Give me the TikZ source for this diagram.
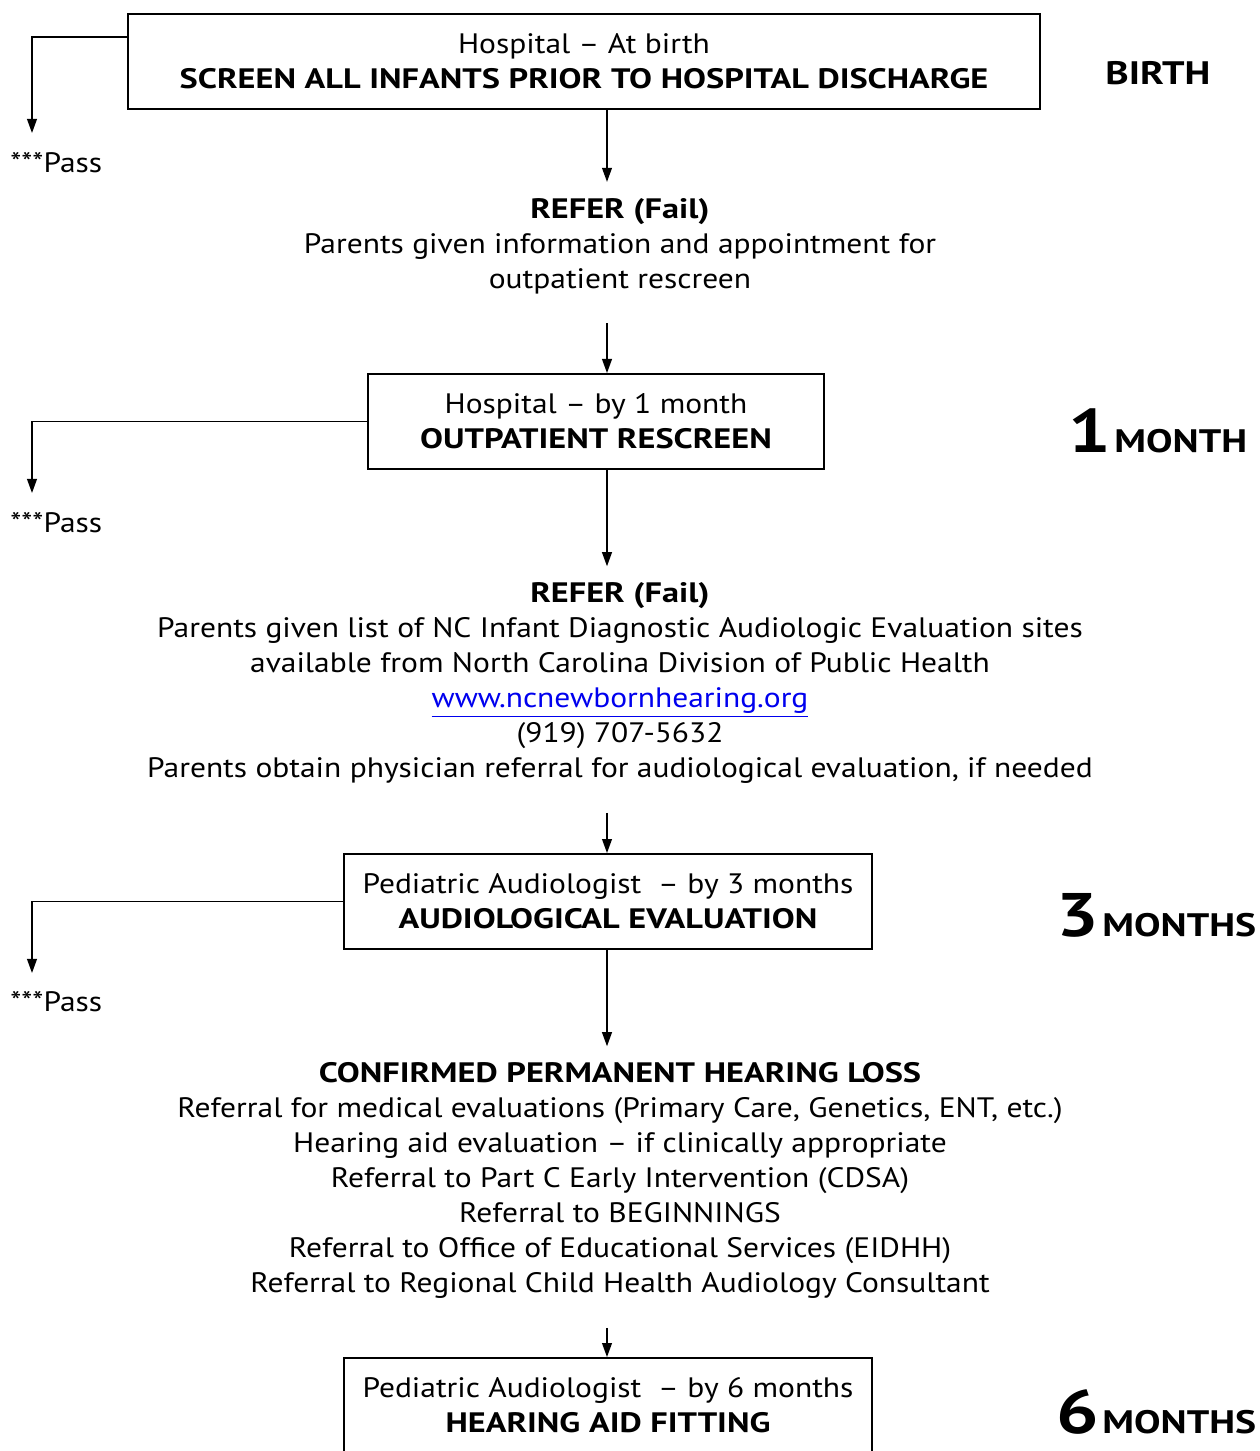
\documentclass[tikz,border=0pt]{standalone}
\usepackage{fontspec}
\setmainfont{PT Sans}[FakeStretch=1.12, BoldFeatures={FakeStretch=1.22}]
\usetikzlibrary{arrows.meta}
\definecolor{linkblue}{RGB}{0,0,238}
\begin{document}
\begin{tikzpicture}[x=0.02cm, y=-0.02cm,
    stage/.style={draw, line width=1.1pt, minimum height=1.9cm, align=center, inner sep=0pt, font=\fontsize{16}{19.9}\selectfont},
    info/.style={align=center, inner sep=0pt, font=\fontsize{16}{19.9}\selectfont},
    flow/.style={-{Triangle[length=8pt,width=5.6pt]}, line width=0.8pt},
    age/.style={anchor=base west, inner sep=0pt, font=\fontsize{18.5}{20}\selectfont\bfseries},
    pass/.style={anchor=base west, inner sep=0pt, font=\fontsize{16}{19.9}\selectfont}]
    \useasboundingbox (0, 0) rectangle (1259, 1451);
    \clip (0, 0) rectangle (1259, 1451);
    \newcommand{\bignum}[1]{{\fontsize{35}{35}\selectfont #1}\hspace{2pt}}

    % Stage boxes
    \node[stage, minimum width=18.24cm] (birth) at (584, 61.5) {Hospital -- At birth\\\textbf{SCREEN ALL INFANTS PRIOR TO HOSPITAL DISCHARGE}};
    \node[stage, minimum width=9.12cm] (rescreen) at (596, 421.5) {Hospital -- by 1 month\\\textbf{OUTPATIENT RESCREEN}};
    \node[stage, minimum width=10.56cm] (evaluation) at (608, 901.5) {Pediatric Audiologist\ \ -- by 3 months\\\textbf{AUDIOLOGICAL EVALUATION}};
    \node[stage, minimum width=10.56cm] (fitting) at (608, 1405.5) {Pediatric Audiologist\ \ -- by 6 months\\\textbf{HEARING AID FITTING}};

    % Refer and confirmed texts
    \node[info] (refer1) at (620, 246) {\textbf{REFER (Fail)}\\Parents given information and appointment for\\outpatient rescreen};
    \node[info] (refer2) at (620, 683) {\textbf{REFER (Fail)}\\Parents given list of NC Infant Diagnostic Audiologic Evaluation sites\\available from North Carolina Division of Public Health\\\textcolor{linkblue}{\underline{www.ncnewbornhearing.org}}\\(919) 707-5632\\Parents obtain physician referral for audiological evaluation, if needed};
    \node[info] (confirmed) at (620, 1180.5) {\textbf{CONFIRMED PERMANENT HEARING LOSS}\\Referral for medical evaluations (Primary Care, Genetics, ENT, etc.)\\Hearing aid evaluation -- if clinically appropriate\\Referral to Part C Early Intervention (CDSA)\\Referral to BEGINNINGS\\Referral to Office of Educational Services (EIDHH)\\Referral to Regional Child Health Audiology Consultant};

    % Ages
    \node[age] (agebirth) at (1105, 84) {BIRTH};
    \node[age] (age1) at (1068, 452) {\bignum{1}MONTH};
    \node[age] (age3) at (1056, 936) {\bignum{3}MONTHS};
    \node[age] (age6) at (1056, 1433) {\bignum{6}MONTHS};

    % Pass branches
    \node[pass] (pass1) at (10, 172) {***Pass};
    \node[pass] (pass2) at (10, 532) {***Pass};
    \node[pass] (pass3) at (10, 1011) {***Pass};
    \coordinate (tip1) at (32, 133);
    \coordinate (tip2) at (32, 493);
    \coordinate (tip3) at (32, 973);
    \draw[flow] ([yshift=-0.48cm]birth.north west) -| (tip1);
    \draw[flow] (rescreen.west) -| (tip2);
    \draw[flow] (evaluation.west) -| (tip3);

    % Main line
    \coordinate (spine) at (607, 0);
    \draw[flow] (birth.south -| spine) -- ([yshift=0.32cm]refer1.north -| spine);
    \draw[flow] ([yshift=-0.58cm]refer1.south -| spine) -- (rescreen.north -| spine);
    \draw[flow] (rescreen.south -| spine) -- ([yshift=0.32cm]refer2.north -| spine);
    \draw[flow] ([yshift=-0.58cm]refer2.south -| spine) -- (evaluation.north -| spine);
    \draw[flow] (evaluation.south -| spine) -- ([yshift=0.32cm]confirmed.north -| spine);
    \draw[flow] ([yshift=-0.58cm]confirmed.south -| spine) -- (fitting.north -| spine);
\end{tikzpicture}
\end{document}
